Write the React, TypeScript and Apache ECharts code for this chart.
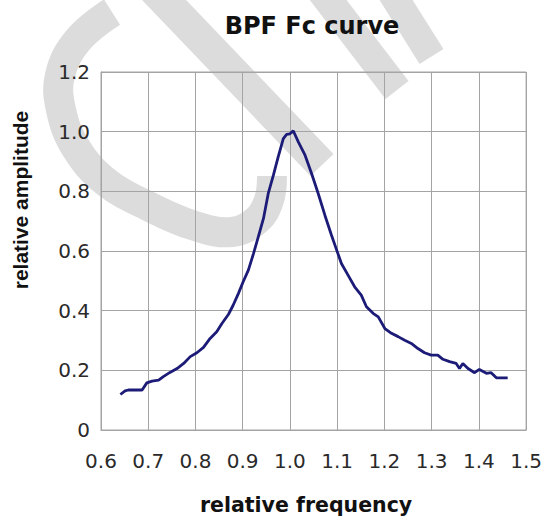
import React, { useEffect, useRef } from "react";
import * as echarts from "echarts";

// relative frequency (x) and relative amplitude (y)
const freq = [
  0.641, 0.651, 0.658, 0.687, 0.697, 0.708, 0.722, 0.732, 0.746, 0.761,
  0.775, 0.789, 0.803, 0.817, 0.831, 0.845, 0.856, 0.870, 0.880, 0.891,
  0.901, 0.912, 0.923, 0.933, 0.944, 0.954, 0.965, 0.975, 0.986, 0.993,
  1.000, 1.007, 1.018, 1.032, 1.046, 1.060, 1.074, 1.088, 1.099, 1.109,
  1.123, 1.137, 1.151, 1.162, 1.176, 1.187, 1.201, 1.215, 1.229, 1.243,
  1.257, 1.271, 1.285, 1.299, 1.313, 1.324, 1.338, 1.352, 1.359, 1.366,
  1.377, 1.391, 1.401, 1.416, 1.426, 1.437, 1.461,
];
const amp = [
  0.119, 0.131, 0.134, 0.134, 0.158, 0.164, 0.167, 0.179, 0.193, 0.206,
  0.223, 0.246, 0.259, 0.277, 0.307, 0.329, 0.357, 0.388, 0.419, 0.458,
  0.497, 0.536, 0.592, 0.647, 0.709, 0.792, 0.854, 0.915, 0.977, 0.991,
  0.993, 1.003, 0.965, 0.921, 0.859, 0.792, 0.720, 0.653, 0.603, 0.558,
  0.519, 0.480, 0.452, 0.413, 0.391, 0.379, 0.340, 0.324, 0.313, 0.301,
  0.290, 0.273, 0.259, 0.251, 0.251, 0.237, 0.229, 0.223, 0.206, 0.223,
  0.206, 0.192, 0.203, 0.190, 0.192, 0.175, 0.175,
];

const titleText = "BPF Fc curve";
const xName = "relative frequency";
const yName = "relative amplitude";

const WM = "#dcdcdc";
const GRIDC = "#a4a4a4";

export default function App() {
  const ref = useRef<HTMLDivElement>(null);
  useEffect(() => {
    if (!ref.current) return;
    const chart = echarts.init(ref.current, null, { renderer: "svg" });
    const data = freq.map((f, i) => [f, amp[i]]);
    chart.setOption({
      animation: false,
      backgroundColor: "#ffffff",
      title: {
        text: titleText,
        left: 307,
        top: 9,
        textAlign: "center",
        z: 6,
        textStyle: {
          fontFamily: "DejaVu Sans",
          fontWeight: "bold",
          fontSize: 24,
          color: "#111",
        },
      },
      graphic: [
        {
          type: "polyline",
          z: -10,
          silent: true,
          shape: {
            points: [
              [112, 12], [78, 40], [60, 75], [61, 110], [76, 148], [106, 182],
              [150, 207], [195, 226], [232, 232], [257, 220], [269, 200], [272, 176],
            ],
            smooth: 0.4,
          },
          style: { stroke: WM, lineWidth: 30, fill: null, lineCap: "butt" },
        },
        {
          type: "polygon",
          z: -10,
          silent: true,
          shape: { points: [[154.5, -33], [333.5, 154], [310.5, 176], [131.5, -11]] },
          style: { fill: WM },
        },
        {
          type: "polygon",
          z: -10,
          silent: true,
          shape: { points: [[317.5, -38], [408.5, 81], [385.5, 99], [294.5, -20]] },
          style: { fill: WM },
        },
        {
          type: "polygon",
          z: -10,
          silent: true,
          shape: { points: [[390, -36], [443.4, 49], [419.6, 64], [366.4, -21]] },
          style: { fill: WM },
        },
        {
          type: "text",
          x: 20,
          y: 200,
          z: 6,
          rotation: Math.PI / 2,
          style: {
            text: yName,
            font: "bold 21px 'Liberation Sans'",
            fill: "#111",
            textAlign: "center",
            textVerticalAlign: "middle",
          },
        },
      ],
      grid: {
        left: 101,
        right: 18,
        top: 72,
        bottom: 91,
        show: true,
        z: 5,
        borderColor: GRIDC,
        borderWidth: 1,
        backgroundColor: "transparent",
      },
      xAxis: {
        type: "value",
        z: 5,
        min: 0.6,
        max: 1.5,
        interval: 0.1,
        name: xName,
        nameLocation: "middle",
        nameGap: 64,
        nameTextStyle: {
          fontFamily: "DejaVu Sans",
          fontWeight: "bold",
          fontSize: 20.5,
          color: "#111",
          padding: [0, 15, 0, 0],
        },
        axisLine: { show: true, lineStyle: { color: GRIDC, width: 1 } },
        axisTick: { show: false },
        splitLine: { show: true, lineStyle: { color: GRIDC, width: 1 } },
        axisLabel: {
          margin: 21,
          fontFamily: "DejaVu Sans",
          fontSize: 20,
          color: "#2a2a2a",
          formatter: (v: number) => v.toFixed(1),
        },
      },
      yAxis: {
        type: "value",
        z: 5,
        min: 0,
        max: 1.2,
        interval: 0.2,
        axisLine: { show: true, lineStyle: { color: GRIDC, width: 1 } },
        axisTick: { show: false },
        splitLine: { show: true, lineStyle: { color: GRIDC, width: 1 } },
        axisLabel: {
          margin: 11,
          fontFamily: "DejaVu Sans",
          fontSize: 20,
          color: "#2a2a2a",
          formatter: (v: number) => (v === 0 ? "0" : v.toFixed(1)),
        },
      },
      series: [
        {
          type: "line",
          data,
          showSymbol: false,
          symbol: "none",
          lineStyle: { color: "#1c1c78", width: 2.8 },
          z: 8,
        },
      ],
    });
    return () => chart.dispose();
  }, []);
  return (
    <div
      ref={ref}
      style={{ position: "absolute", left: 0, top: 0, width: 545, height: 521 }}
    />
  );
}
